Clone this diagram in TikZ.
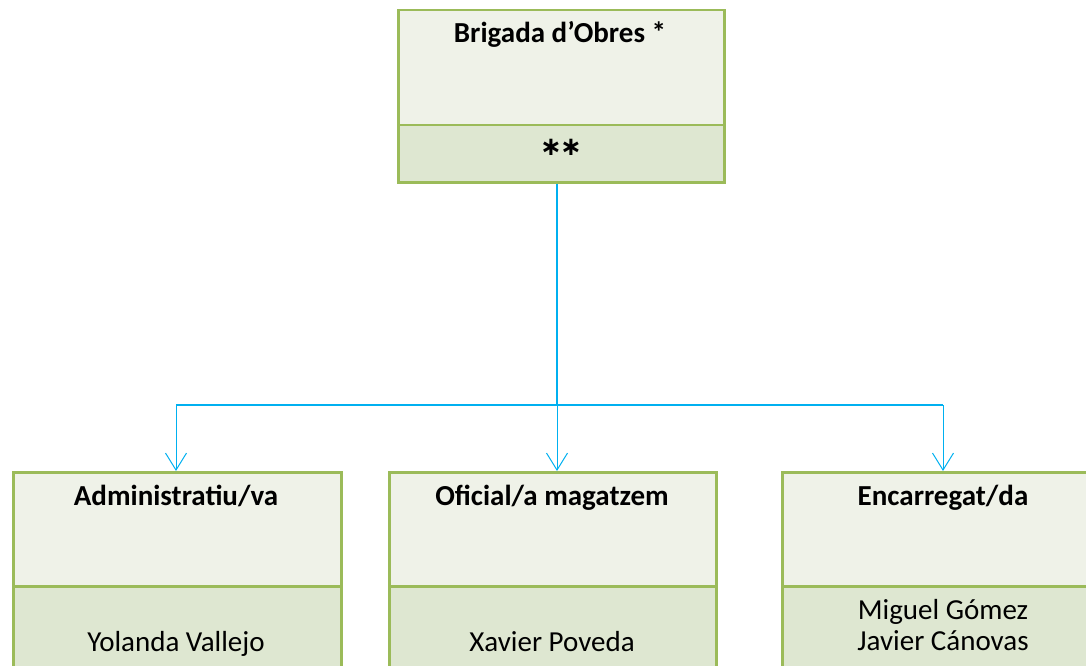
\documentclass[tikz,border=0pt]{standalone}
\usepackage{fontspec}
\setmainfont{Carlito}
\newfontfamily\djv{DejaVu Sans}
\usetikzlibrary{arrows.meta}
\definecolor{bord}{HTML}{9BBB59}
\definecolor{upfill}{HTML}{EFF2E8}
\definecolor{lowfill}{HTML}{DEE7D1}
\definecolor{conn}{HTML}{00B0F0}
\tikzset{
  upbox/.style={draw=bord, fill=upfill, line width=2.5pt, anchor=north west, inner sep=0pt},
  lowbox/.style={draw=bord, fill=lowfill, line width=2.5pt, anchor=north west, inner sep=0pt},
  ttl/.style={font=\fontsize{29}{34}\selectfont\bfseries, anchor=base, inner sep=0pt},
  nm/.style={font=\fontsize{29}{34}\selectfont, anchor=base, inner sep=0pt},
  ast/.style={font=\djv\bfseries\fontsize{26}{30}\selectfont, anchor=center, inner sep=0pt},
  cn/.style={draw=conn, line width=1pt},
  tip/.style={-{Straight Barb[length=17pt,width=21pt,line width=1pt]}}
}
\begin{document}
\begin{tikzpicture}[x=1pt,y=-1pt]
\useasboundingbox (0,0) rectangle (1086,666);
\begin{scope}
\clip (0,0) rectangle (1086,666);
% top box
\node[upbox, minimum width=326pt, minimum height=115pt] (tu) at (397,9) {};
\node[lowbox, minimum width=326pt, minimum height=57pt] (tl) at (397,124) {};
\node[ttl] (tt) at (560,43) {Brigada d’Obres *};
\node[ast] (ts) at (561,147) {∗\kern-2pt∗};
% bottom boxes
\node[upbox, minimum width=328pt, minimum height=114pt] (au) at (12,471) {};
\node[lowbox, minimum width=328pt, minimum height=130pt] (al) at (12,585) {};
\node[ttl] (at) at (176,505) {Administratiu/va};
\node[nm] (an) at (176,651) {Yolanda Vallejo};

\node[upbox, minimum width=327pt, minimum height=114pt] (mu) at (388,471) {};
\node[lowbox, minimum width=327pt, minimum height=130pt] (ml) at (388,585) {};
\node[ttl] (mt) at (552,505) {Oficial/a magatzem};
\node[nm] (mn) at (552,651) {Xavier Poveda};

\node[upbox, minimum width=324pt, minimum height=114pt] (cu) at (781,471) {};
\node[lowbox, minimum width=324pt, minimum height=130pt] (cl) at (781,585) {};
\node[ttl] (ct) at (943,505) {Encarregat/da};
\node[nm] (cn1) at (943,619) {Miguel Gómez};
\node[nm] (cn2) at (943,650) {Javier Cánovas};

% connectors
\coordinate (j) at (557,405);
\coordinate (ja) at (at |- j);
\coordinate (jc) at (ct |- j);
\draw[cn, line width=2.5pt] (tl.south -| j) -- (j);
\draw[cn, line width=1.8pt] (ja) -- (jc);
\draw[cn, tip] (ja) -- (au.north -| ja);
\draw[cn, tip] (j) -- (mu.north -| j);
\draw[cn, tip] (jc) -- (cu.north -| jc);
\end{scope}
\end{tikzpicture}
\end{document}
